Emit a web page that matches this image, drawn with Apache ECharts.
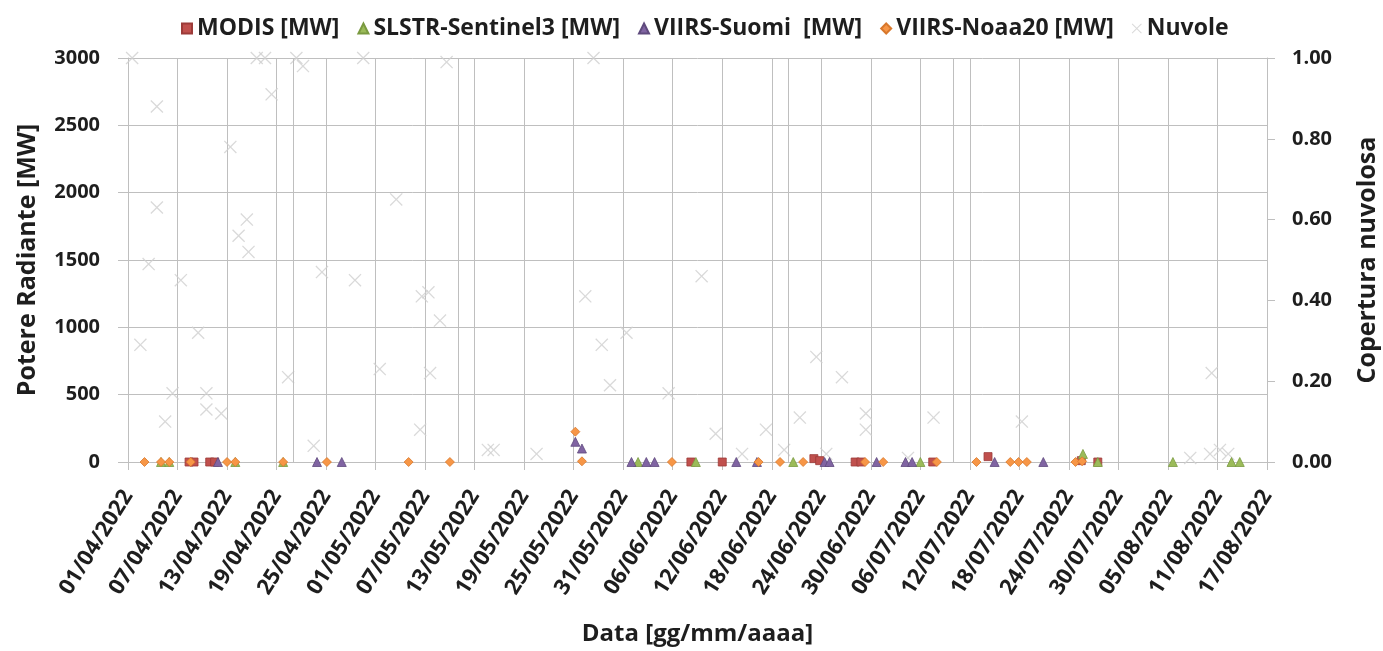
<!DOCTYPE html>
<html><head><meta charset="utf-8">
<script src="https://cdn.jsdelivr.net/npm/echarts/dist/echarts.min.js"></script>
<style>html,body{margin:0;padding:0;background:#fff}#c{width:1383px;height:651px}</style>
</head><body><div id="c"></div>
<script>
// x = days since 01/04/2022
const xTickLabels = ['01/04/2022','07/04/2022','13/04/2022','19/04/2022','25/04/2022','01/05/2022','07/05/2022','13/05/2022','19/05/2022','25/05/2022','31/05/2022','06/06/2022','12/06/2022','18/06/2022','24/06/2022','30/06/2022','06/07/2022','12/07/2022','18/07/2022','24/07/2022','30/07/2022','05/08/2022','11/08/2022','17/08/2022'];
const legendNames = ['MODIS [MW]','SLSTR-Sentinel3 [MW]','VIIRS-Suomi  [MW]','VIIRS-Noaa20 [MW]','Nuvole'];

const modis = [[7.4,0],[8.0,0],[9.9,0],[10.5,0],[68.2,0],[72.0,0],[83.1,25],[83.8,10],[88.1,0],[88.8,0],[97.5,0],[104.2,40],[115.5,10],[117.5,0]];
const slstr = [[4.0,0],[5.0,0],[13.0,0],[18.8,0],[61.8,0],[68.8,0],[80.6,0],[96.0,0],[115.7,60],[117.5,0],[126.6,0],[133.7,0],[134.7,0]];
const suomi = [[10.9,0],[22.9,0],[25.9,0],[54.2,150],[55.0,100],[61.0,0],[62.8,0],[63.8,0],[73.7,0],[76.2,0],[84.4,0],[85.0,0],[90.7,0],[94.2,0],[95.0,0],[105.0,0],[110.9,0]];
const noaa20 = [[2.0,0],[4.0,0],[5.0,0],[7.6,0],[12.0,0],[13.0,0],[18.8,0],[24.1,0],[34.0,0],[39.0,0],[54.2,225],[55.0,5],[65.9,0],[76.4,0],[79.0,0],[81.8,0],[89.3,0],[91.5,0],[98.0,0],[102.8,0],[106.9,0],[107.9,0],[108.9,0],[114.8,0],[115.6,5]];
const nuvole = [[0.5,1.00],[1.5,0.29],[2.5,0.49],[3.5,0.88],[3.5,0.63],[4.5,0.10],[5.4,0.17],[6.4,0.45],[8.5,0.32],[9.5,0.17],[9.5,0.13],[11.3,0.12],[12.4,0.78],[13.4,0.56],[14.4,0.60],[14.6,0.52],[15.6,1.00],[16.6,1.00],[17.4,0.91],[19.4,0.21],[20.4,1.00],[21.2,0.98],[22.5,0.04],[23.5,0.47],[27.5,0.45],[28.5,1.00],[30.5,0.23],[32.5,0.65],[35.4,0.08],[35.6,0.41],[36.4,0.42],[36.6,0.22],[37.8,0.35],[38.6,0.99],
 [43.6,0.03],[44.3,0.03],[49.5,0.02],[55.4,0.41],[56.4,1.00],[57.4,0.29],[58.4,0.19],[60.4,0.32],[65.5,0.17],[69.5,0.46],[71.2,0.07],[74.4,0.02],[77.3,0.08],[79.5,0.03],[81.4,0.11],[83.4,0.26],[84.6,0.02],[86.5,0.21],[89.4,0.12],[89.4,0.08],
 [94.5,0.01],[97.6,0.11],[108.3,0.10],[128.7,0.01],[131.3,0.22],[131.1,0.02],[132.3,0.03],[133.3,0.02]];
const extraGridDays = [20,40,80,100];

const FONT = '"Open Sans", sans-serif';
const TXT = '#1e1e1e';
const GRID = '#bfbfbf';
const crossPath = 'path://M0,0.7L0.7,0L5,4.3L9.3,0L10,0.7L5.7,5L10,9.3L9.3,10L5,5.7L0.7,10L0,9.3L4.3,5Z';

const chart = echarts.init(document.getElementById('c'), null, {renderer:'canvas'});
const mk = (name, data, symbol, size, color, border, z) => ({
  name, type:'scatter', data, symbol, symbolSize:size, z,
  itemStyle:{color, borderColor:border, borderWidth:0.8, opacity:1},
  emphasis:{disabled:true}
});
chart.setOption({
  animation:false,
  backgroundColor:'#fff',
  textStyle:{fontFamily:FONT},
  legend:{
    top:12, left:176, itemWidth:10, itemHeight:10, itemGap:18,
    textStyle:{fontFamily:FONT, fontWeight:'bold', fontSize:23, color:TXT},
    data:legendNames
  },
  grid:{left:128, right:116, top:58, bottom:189, outerBoundsMode:'none'},
  xAxis:{
    type:'value', min:0, max:138, interval:6,
    name:'Data [gg/mm/aaaa]', nameLocation:'middle', nameGap:160,
    nameTextStyle:{fontFamily:FONT, fontWeight:'bold', fontSize:24, color:TXT},
    axisLine:{show:true, onZero:false, lineStyle:{color:GRID}},
    axisTick:{show:true, length:8, lineStyle:{color:GRID}},
    splitLine:{show:true, lineStyle:{color:GRID, width:1}},
    axisLabel:{rotate:58, margin:30, fontFamily:FONT, fontWeight:'bold', fontSize:22, color:TXT,
      showMinLabel:true, showMaxLabel:true,
      formatter:(v)=>{const i=Math.round(v/6); return xTickLabels[i]||'';}}
  },
  yAxis:[{
    type:'value', min:0, max:3000, interval:500,
    name:'Potere Radiante [MW]', nameLocation:'middle', nameRotate:90, nameGap:88,
    nameTextStyle:{fontFamily:FONT, fontWeight:'bold', fontSize:25, color:TXT},
    axisLine:{show:true, lineStyle:{color:GRID}},
    axisTick:{show:true, length:10, lineStyle:{color:GRID}},
    splitLine:{show:true, lineStyle:{color:GRID, width:1}},
    axisLabel:{margin:28, fontFamily:FONT, fontWeight:'bold', fontSize:20, color:TXT,
      formatter:(v)=>String(v)}
  },{
    type:'value', min:0, max:1, interval:0.2, position:'right',
    name:'Copertura nuvolosa', nameLocation:'middle', nameRotate:90, nameGap:88,
    nameTextStyle:{fontFamily:FONT, fontWeight:'bold', fontSize:25, color:TXT},
    axisLine:{show:true, lineStyle:{color:GRID}},
    axisTick:{show:true, length:8, lineStyle:{color:GRID}},
    splitLine:{show:false},
    axisLabel:{margin:25, fontFamily:FONT, fontWeight:'bold', fontSize:20, color:TXT,
      formatter:(v)=>v.toFixed(2)}
  }],
  series:[
    Object.assign(mk(legendNames[4], nuvole, crossPath, 13, '#cfcfcf', '#cfcfcf', 1), {
      yAxisIndex:1, itemStyle:{color:'#cfcfcf', borderWidth:0},
      markLine:{silent:true, symbol:['none','none'], label:{show:false}, animation:false,
        lineStyle:{color:GRID, type:'solid', width:1}, emphasis:{disabled:true},
        data:extraGridDays.map(d=>({xAxis:d}))}
    }),
    mk(legendNames[0], modis, 'rect', 8, '#c0504d', '#9c3b39', 3),
    mk(legendNames[1], slstr, 'triangle', 9, '#9bbb59', '#7a9a40', 4),
    mk(legendNames[2], suomi, 'triangle', 9, '#8064a2', '#5f4a7d', 5),
    mk(legendNames[3], noaa20, 'diamond', 9, '#f79646', '#d8782c', 6)
  ]
});
</script></body></html>
